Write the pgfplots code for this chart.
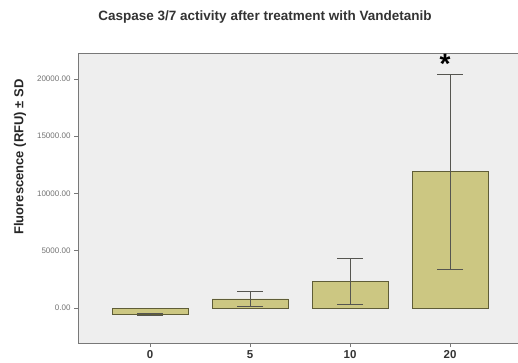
\documentclass[border=0pt]{standalone}
\usepackage{pgfplots}
\pgfplotsset{compat=1.18}
\usepackage{fontspec}
\setmainfont{Liberation Sans}
\definecolor{bgc}{RGB}{238,238,238}
\definecolor{barc}{RGB}{204,199,130}
\definecolor{bare}{RGB}{95,93,55}
\definecolor{errc}{RGB}{85,85,80}
\definecolor{axc}{RGB}{120,120,120}
\begin{document}
\begin{tikzpicture}[x=1pt,y=1pt]
\path[use as bounding box] (0,0) rectangle (518,362);
\node[font=\bfseries\fontsize{13.5}{14}\selectfont, text=black!80] at (265,345) {Caspase 3/7 activity after treatment with Vandetanib};
\node[font=\bfseries\fontsize{13}{14}\selectfont, rotate=90, text=black!85] at (20,205) {Fluorescence (RFU) ± SD};
\begin{axis}[
  at={(78pt,19pt)}, anchor=south west,
  scale only axis, width=440pt, height=290pt,
  xmin=-0.72, xmax=3.68, ymin=-3057, ymax=22270,
  axis background/.style={fill=bgc},
  axis x line=box, axis y line*=left,
  axis line style={axc, line width=0.9pt},
  xtick pos=bottom, ytick pos=left,
  tick align=outside,
  major tick length=4pt,
  tick style={axc, line width=0.9pt},
  xtick={0,1,2,3}, xticklabels={0,5,10,20},
  xticklabel style={font=\bfseries\fontsize{11.5}{12}\selectfont, text=black!80},
  ytick={0,5000,10000,15000,20000},
  scaled y ticks=false,
  yticklabel style={font=\fontsize{8}{9}\selectfont, text=black!55},
  /pgf/number format/.cd, fixed, fixed zerofill, precision=2, 1000 sep={}, assume math mode=true,
  /pgfplots/.cd,
  ybar, bar width=76pt,
  clip=false,
]
\addplot[fill=barc, draw=bare, line width=0.8pt,
  error bars/.cd, y dir=both, y explicit,
  error bar style={errc, line width=0.8pt},
  error mark options={rotate=90, mark size=13pt, errc, line width=0.8pt}]
 coordinates {
  (0,-530) +- (0,90)
  (1,790) +- (0,640)
  (2,2350) +- (0,2010)
  (3,11900) +- (0,8520)
 };
\node[font=\bfseries\fontsize{28}{28}\selectfont, anchor=south, inner sep=0pt] at (axis cs:2.95,20500) {*};
\end{axis}
\end{tikzpicture}
\end{document}
